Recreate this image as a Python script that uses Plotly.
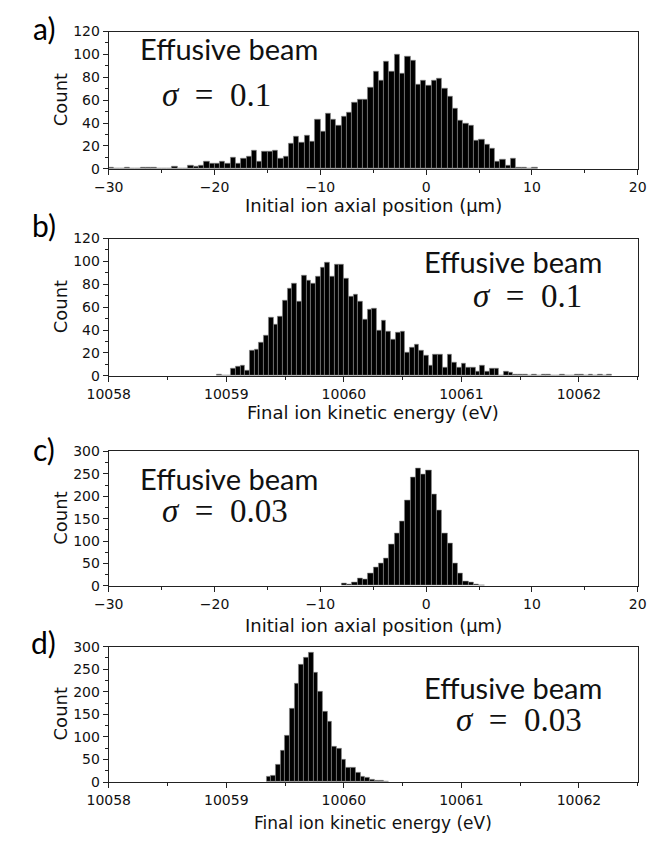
import plotly.graph_objects as go

W, H = 662, 842

# ---------------- data ----------------
# (a) initial ion axial position, sigma = 0.1 ; bins of 0.5 um, left edge of first bin = -30
pos_bin_width = 0.5
pos_a_first_edge = -30.0
counts_a = [1, 0, 0, 1, 0, 0, 1, 1, 1, 0, 0, 0, 2, 0, 0,
            3, 2, 3, 6, 5, 5, 6, 5, 10, 5, 9, 11, 16, 6, 15, 15, 16, 9, 11,
            22, 28, 23, 29, 24, 43, 33, 48, 43, 38, 46, 49, 58, 61, 61, 71,
            85, 77, 94, 85, 100, 83, 98, 95, 74, 77, 73, 77, 79, 70, 63, 53,
            42, 40, 38, 25, 26, 21, 18, 6, 8, 3, 9, 1, 1, 0, 1]

# (b) final ion kinetic energy, sigma = 0.1 ; bins of 0.04 eV, first left edge 10058.92
ke_bin_width = 0.04
ke_b_first_edge = 10058.92
counts_b = [1, 0, 0, 6, 8, 9, 5, 22, 23, 29, 35, 51, 45, 52, 66, 76, 81, 65, 88, 83,
            81, 87, 95, 99, 87, 97, 97, 85, 69, 71, 65, 49, 58, 59, 40, 48, 39, 32,
            38, 39, 20, 25, 27, 22, 18, 9, 19, 19, 7, 19, 12, 7, 11, 7, 7, 4, 9, 4,
            6, 6, 0, 4, 3, 1, 1, 1, 0, 1, 0, 1, 1, 0, 0, 1, 0, 0, 1, 1, 0, 1, 0, 1, 0, 1]

# (c) initial ion axial position, sigma = 0.03 ; first left edge -8
pos_c_first_edge = -8.0
counts_c = [5, 3, 7, 17, 14, 28, 40, 50, 62, 93, 118, 144, 190, 241, 263, 248, 258,
            204, 169, 118, 95, 49, 28, 9, 7, 4, 1]

# (d) final ion kinetic energy, sigma = 0.03 ; first left edge 10059.34
ke_d_first_edge = 10059.34
counts_d = [11, 14, 38, 69, 103, 162, 219, 260, 275, 286, 243, 200, 157, 134, 78,
            73, 49, 32, 31, 20, 11, 9, 5, 3, 2, 1]

pos_range = [-30, 20]
pos_ticks = [-30, -20, -10, 0, 10, 20]
ke_range = [10058, 10062.5]
ke_ticks = [10058, 10059, 10060, 10061, 10062]

pos_title = "Initial ion axial position (µm)"
ke_title = "Final ion kinetic energy (eV)"
y_title = "Count"
beam_label = "Effusive beam"
panel_letters = ["a)", "b)", "c)", "d)"]
sigma_values = ["0.1", "0.1", "0.03", "0.03"]

# ---------------- layout geometry (pixels) ----------------
x_left, x_right = 91, 646
panels_px = [(24, 164), (235, 375), (452, 589), (651, 789)]  # (top, bottom)


def centers(first_edge, width, n):
    return [first_edge + (i + 0.5) * width for i in range(n)]


series = [
    (centers(pos_a_first_edge, pos_bin_width, len(counts_a)), counts_a, pos_bin_width),
    (centers(ke_b_first_edge, ke_bin_width, len(counts_b)), counts_b, ke_bin_width),
    (centers(pos_c_first_edge, pos_bin_width, len(counts_c)), counts_c, pos_bin_width),
    (centers(ke_d_first_edge, ke_bin_width, len(counts_d)), counts_d, ke_bin_width),
]

fig = go.Figure()
for i, (xs, ys, w) in enumerate(series):
    sfx = "" if i == 0 else str(i + 1)
    fig.add_trace(go.Bar(
        x=xs, y=ys, width=w,
        marker=dict(color="#000000", line=dict(color="#8a8a8a", width=0.6)),
        xaxis="x" + sfx, yaxis="y" + sfx, showlegend=False,
    ))

tickfont = dict(family="DejaVu Sans", size=14, color="#111111")
axis_common = dict(
    showline=True, mirror=True, linecolor="#222222", linewidth=1,
    ticks="outside", ticklen=5, tickwidth=1, tickcolor="#222222",
    showgrid=False, zeroline=False, tickfont=tickfont,
)

layout = dict(
    width=W, height=H, margin=dict(l=0, r=0, t=0, b=0),
    paper_bgcolor="white", plot_bgcolor="white", bargap=0,
    annotations=[],
)

for i, (top, bottom) in enumerate(panels_px):
    sfx = "" if i == 0 else str(i + 1)
    is_pos = i in (0, 2)
    xa = dict(axis_common)
    xa.update(
        domain=[x_left / W, x_right / W],
        anchor="y" + sfx,
        range=pos_range if is_pos else ke_range,
        tickvals=pos_ticks if is_pos else ke_ticks,
        tickformat="d",
        minor=dict(ticks="outside", ticklen=3, tickcolor="#222222",
                   dtick=5 if is_pos else 0.5,
                   tick0=-30 if is_pos else 10058),
    )
    ya = dict(axis_common)
    ymax = 120 if i < 2 else 300
    ystep = 20 if i < 2 else 50
    ya.update(
        domain=[1 - bottom / H, 1 - top / H],
        anchor="x" + sfx,
        range=[0, ymax],
        dtick=ystep, tick0=0,
        minor=dict(ticks="outside", ticklen=3, tickcolor="#222222",
                   dtick=ystep / 2, tick0=0),
    )
    layout["xaxis" + sfx] = xa
    layout["yaxis" + sfx] = ya


def P(x, y):
    return x / W, 1 - y / H


ann = layout["annotations"]
x_title_y = [201, 412, 629, 831]
x_title_size = [18, 18, 18, 17]
letter_pos = [(23, 20), (23, 221), (23, 450), (23, 646)]
beam_pos = [(122, 'left', 41), (420, 'left', 258), (122, 'left', 480), (420, 'left', 693)]
sigma_pos = [(145, 'left', 89), (590, 'right', 294), (145, 'left', 513), (590, 'right', 726)]

for i, (top, bottom) in enumerate(panels_px):
    # x-axis title
    x, y = P((x_left + x_right) / 2, x_title_y[i])
    ann.append(dict(text=pos_title if i in (0, 2) else ke_title, x=x, y=y,
                    xref="paper", yref="paper", showarrow=False,
                    xanchor="center", yanchor="middle", borderpad=0,
                    font=dict(family="DejaVu Sans", size=x_title_size[i], color="#111111")))
    # y-axis title
    x, y = P(40, (top + bottom) / 2)
    ann.append(dict(text=y_title, x=x, y=y, xref="paper", yref="paper",
                    showarrow=False, textangle=-90, xanchor="center", yanchor="middle",
                    font=dict(family="DejaVu Sans", size=18, color="#111111")))
    # panel letter
    x, y = P(*letter_pos[i])
    ann.append(dict(text=panel_letters[i], x=x, y=y, xref="paper", yref="paper",
                    showarrow=False, xanchor="center", yanchor="middle",
                    font=dict(family="Lato", size=30, color="#000000")))
    # "Effusive beam"
    bx, banch, by = beam_pos[i]
    x, y = P(bx, by)
    ann.append(dict(text=beam_label, x=x, y=y, xref="paper", yref="paper",
                    showarrow=False, xanchor=banch, yanchor="middle",
                    font=dict(family="Lato", size=29, color="#111111")))
    # sigma
    sx, sanch, sy = sigma_pos[i]
    x, y = P(sx, sy)
    ann.append(dict(text="<i>σ</i>\u2002=\u2002" + sigma_values[i],
                    x=x, y=y, xref="paper", yref="paper",
                    showarrow=False, xanchor=sanch, yanchor="middle",
                    font=dict(family="Liberation Serif", size=33, color="#111111")))

fig.update_layout(**layout)
fig.write_html("out.html")
